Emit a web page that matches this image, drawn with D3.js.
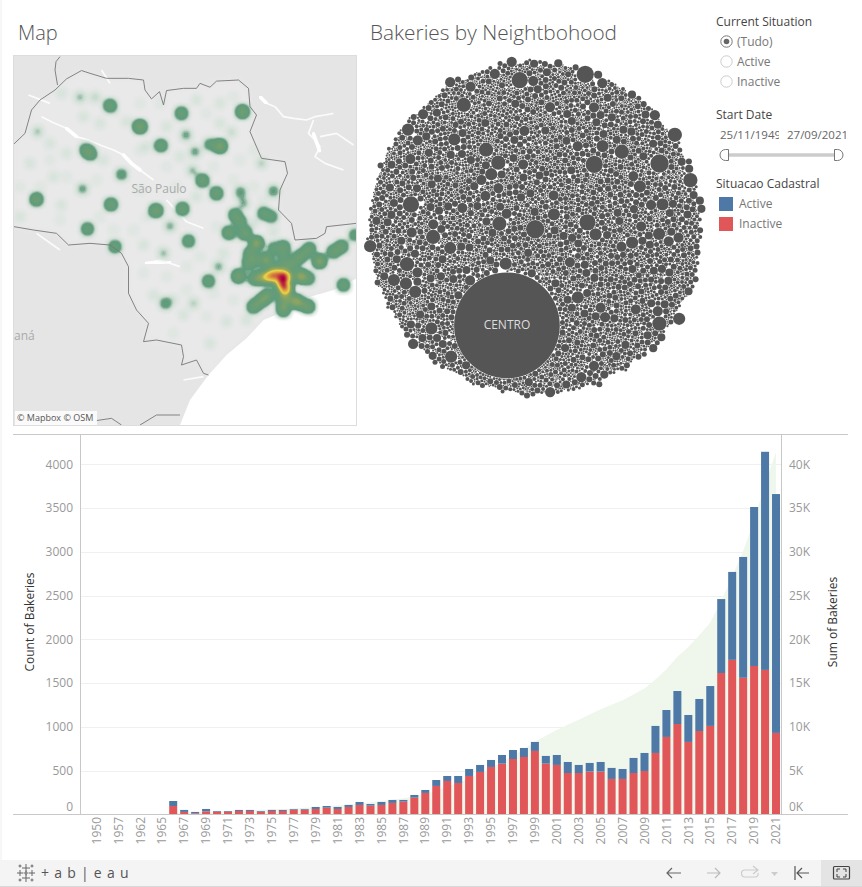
<!DOCTYPE html>
<html>
<head>
<meta charset="utf-8">
<title>Bakeries</title>
<style>
body { margin: 0; background: #fff; overflow: hidden; }
svg { display: block; font-family: "Open Sans", sans-serif; }
</style>
</head>
<body>
<script src="https://d3js.org/d3.v7.min.js"></script>
<script>
// bars
var years = ["1950","1955","1957","1960","1962","1964","1965","1966","1967","1968","1969","1970","1971","1972","1973","1974","1975","1976","1977","1978","1979","1980","1981","1982","1983","1984","1985","1986","1987","1988","1989","1990","1991","1992","1993","1994","1995","1996","1997","1998","1999","2000","2001","2002","2003","2004","2005","2006","2007","2008","2009","2010","2011","2012","2013","2014","2015","2016","2017","2018","2019","2020","2021"];
var inactive = [0,0,0,0,0,1,1,95,27,12,34,30,30,38,38,30,38,38,53,53,61,76,61,84,107,99,107,130,145,190,244,324,381,358,438,484,541,579,632,655,724,579,564,472,472,488,488,404,404,472,495,701,884,1032,827,952,1010,1615,1765,1560,1695,1650,930];
var active = [1,1,1,1,1,1,2,57,23,15,27,8,8,12,12,8,12,12,8,8,23,19,23,23,34,19,34,34,19,31,34,68,57,80,80,80,80,99,103,103,103,88,114,126,92,99,110,126,114,172,206,309,308,377,308,366,456,845,1005,1381,1817,2493,2730];
var sumBakeries = [1,2,3,4,5,7,10,162,212,239,300,338,376,426,476,514,564,614,675,736,820,915,999,1106,1247,1365,1506,1670,1834,2055,2333,2725,3163,3601,4119,4683,5304,5982,6717,7475,8302,8969,9647,10245,10809,11396,11994,12524,13042,13686,14387,15397,16589,17998,19133,20451,21917,24377,27147,30088,33600,37743,41403];
var countTicks = [0,500,1000,1500,2000,2500,3000,3500,4000];
var sumTicks = [0,5000,10000,15000,20000,25000,30000,35000,40000];

// neighbourhood sizes: value, how many bubbles of that value
var centroValue = 4900;
var bubbleValues = [148,130,117,90,66,46,29,16,11,7,4,2,1];
var bubbleCounts = [2,2,3,10,20,40,130,300,500,700,1000,1500,2500];

// map, lon / lat
var stateNorth = [[-52.01,-21.08],[-51.79,-20.89],[-51.66,-20.47],[-51.49,-20.29],[-51.19,-20.11],[-50.96,-19.91],[-50.66,-19.76],[-50.49,-19.81],[-50.16,-19.90],[-49.72,-19.90],[-49.42,-19.93],[-49.39,-20.11],[-49.26,-20.27],[-49.10,-20.14],[-49.02,-20.38],[-48.96,-20.12],[-48.62,-20.08],[-48.36,-20.08],[-48.29,-19.99],[-48.09,-20.06],[-47.96,-19.95],[-47.52,-19.93],[-47.32,-20.08],[-47.29,-20.41],[-47.16,-20.56],[-47.29,-20.86],[-47.06,-21.34],[-46.59,-21.40],[-46.54,-21.61],[-46.69,-21.91],[-46.72,-22.27],[-46.46,-22.51],[-46.39,-22.81],[-45.96,-22.78],[-45.79,-22.69],[-45.76,-22.57],[-45.16,-22.51]];
var stateSouth = [[-52.01,-22.57],[-51.62,-22.63],[-51.16,-22.69],[-50.92,-22.90],[-50.49,-22.87],[-50.09,-22.90],[-49.86,-23.05],[-49.72,-23.29],[-49.72,-23.77],[-49.56,-24.07],[-49.32,-24.31],[-49.42,-24.64],[-49.16,-24.61],[-48.66,-24.70],[-48.62,-24.91],[-48.66,-25.06],[-48.36,-24.97],[-48.22,-25.21],[-48.12,-25.24]];
var otherBorders = [
  [[-51.09,-19.51],[-51.17,-19.60],[-51.19,-19.75],[-51.14,-20.02]],
  [[-50.36,-26.06],[-50.06,-26.02],[-49.86,-26.14]],
  [[-49.49,-26.14],[-49.16,-25.96],[-48.69,-25.96]]
];
var coast = [[-48.69,-26.14],[-48.49,-25.69],[-48.12,-25.24],[-47.76,-24.88],[-47.36,-24.58],[-47.02,-24.25],[-46.62,-24.10],[-46.09,-23.83],[-45.62,-23.71],[-45.15,-23.50],[-45.15,-26.14]];
var rivers = [
  [[-51.46,-20.59],[-51.22,-20.70],[-50.96,-20.80],[-50.76,-20.95],[-50.52,-21.01],[-50.29,-21.10],[-50.02,-21.19],[-49.82,-21.28],[-49.66,-21.43],[-49.49,-21.55],[-49.22,-21.73]],
  [[-48.96,-22.09],[-48.56,-22.48],[-48.22,-22.60]],
  [[-47.09,-20.23],[-46.96,-20.35],[-46.79,-20.41],[-46.62,-20.59],[-46.42,-20.62],[-46.16,-20.65],[-45.99,-20.59],[-45.79,-20.56],[-45.62,-20.53]],
  [[-46.02,-20.65],[-46.12,-20.89],[-45.99,-21.01],[-45.89,-21.13],[-45.99,-21.31],[-45.79,-21.43],[-45.42,-21.55]],
  [[-45.89,-20.95],[-45.56,-20.89],[-45.22,-21.10]],
  [[-49.36,-23.23],[-49.09,-23.17],[-48.69,-23.29]],
  [[-50.26,-19.75],[-50.09,-19.99]],
  [[-51.56,-22.69],[-51.09,-22.99]],
  [[-51.72,-20.20],[-51.29,-20.35]],
  [[-50.89,-24.07],[-50.89,-24.25]],
  [[-48.62,-25.33],[-48.22,-25.27]]
];
var reservoirs = [
  [[-49.82,-21.28],[-49.66,-21.43],[-49.49,-21.55]],
  [[-49.36,-23.23],[-48.90,-23.20]],
  [[-47.09,-20.23],[-46.96,-20.35]],
  [[-46.02,-20.90],[-45.90,-21.20]],
  [[-50.96,-20.80],[-50.76,-20.95]]
];
// lon, lat, bakeries
var heatPoints = [
  [-50.09,-20.39,20],[-49.49,-20.77,32],[-48.66,-20.53,20],[-47.44,-20.50,28],[-49.07,-21.11,20],[-47.89,-21.12,34],[-48.09,-21.09,12],
  [-50.57,-21.19,18],[-50.48,-21.26,18],[-49.86,-21.63,11],[-50.64,-21.89,7],[-51.56,-22.08,24],[-50.07,-22.17,22],[-49.17,-22.28,28],
  [-48.64,-22.25,22],[-48.24,-21.74,22],[-47.96,-21.97,22],[-47.48,-21.95,9],[-46.82,-21.93,9],[-47.02,-22.33,16],[-46.86,-22.39,14],
  [-47.59,-22.36,20],[-47.71,-22.68,24],[-50.54,-22.61,18],[-49.99,-22.93,18],[-48.52,-22.83,18],[-48.12,-23.55,18],[-48.98,-23.95,11],
  [-47.52,-23.46,30],[-45.42,-23.62,20],[-45.19,-22.72,14],
  [-48.89,-22.56,6],[-49.02,-23.05,5],[-47.92,-23.29,6],[-48.42,-23.95,4],[-50.69,-20.24,5],[-50.39,-20.24,3.5],[-51.54,-20.86,4.5],
  [-48.57,-20.92,7],[-48.39,-21.22,7],[-48.44,-21.56,5],[-47.06,-21.43,4],[-47.66,-20.87,3],[-47.42,-22.15,6],
  [-51.06,-20.17,2],[-51.22,-21.67,2],[-50.96,-21.25,2],[-50.22,-21.37,2],[-51.69,-21.43,2],[-51.06,-22.18,2],[-49.22,-23.80,2],
  [-48.62,-24.16,2],[-47.76,-24.28,2],[-48.09,-24.67,2],[-49.42,-22.90,2],[-48.82,-23.89,2],[-47.89,-20.35,2],[-47.89,-20.71,2],
  [-49.76,-20.68,2],[-48.96,-20.77,2],[-48.36,-20.29,2],[-48.69,-21.31,2],[-48.36,-22.03,2],[-47.82,-23.05,2],[-47.36,-24.25,2],
  [-51.89,-22.39,2],[-49.36,-21.13,2],[-51.29,-21.07,2],[-50.62,-20.59,2],[-50.29,-20.71,2],[-47.22,-22.51,2],[-46.82,-22.66,2],
  [-51.29,-21.37,1.2],[-51.49,-21.85,1.2],[-51.89,-21.85,1.2],[-50.96,-21.67,1.2],[-50.36,-21.73,1.2],[-50.29,-22.39,1.2],[-51.09,-22.45,1.2],
  [-49.49,-21.91,1.2],[-49.62,-22.63,1.2],[-50.02,-22.63,1.2],[-49.36,-22.39,1.2],[-49.42,-23.41,1.2],[-48.96,-23.47,1.2],[-48.56,-23.29,1.2],
  [-48.29,-23.11,1.2],[-48.76,-21.85,1.2],[-47.96,-22.57,1.2],[-48.02,-21.49,1.2],[-47.49,-21.37,1.2],[-47.62,-21.73,1.2],[-47.22,-21.85,1.2],
  [-47.02,-22.09,1.2],[-47.22,-21.19,1.2],[-48.96,-21.49,1.2],[-49.49,-21.19,1.2],[-50.02,-20.47,1.2],[-49.49,-20.35,1.2],[-48.16,-20.53,1.2],
  [-47.62,-20.23,1.2],[-49.09,-20.35,1.2],[-48.56,-23.71,1.2],[-48.16,-24.19,1.2],[-48.82,-24.49,1.2],[-47.62,-23.89,1.2],[-48.02,-23.77,1.2],
  [-46.86,-23.47,70],[-46.69,-23.44,70],[-46.56,-23.47,70],[-46.66,-23.59,70],[-46.57,-23.68,70],[-47.00,-23.47,35],[-46.28,-23.46,40],[-46.62,-23.80,28],
  [-46.92,-23.80,20],[-47.00,-23.86,14],[-47.09,-23.92,20],[-47.22,-24.01,22],[-46.62,-23.95,18],[-46.62,-24.07,24],[-46.36,-23.92,34],[-46.48,-23.88,14],[-46.24,-23.97,14],[-46.12,-24.01,22],
  [-46.12,-23.50,18],[-47.20,-23.50,22],[-47.08,-23.50,14],[-46.46,-23.26,18],[-46.29,-23.11,18],[-46.38,-23.18,10],[-46.20,-23.05,10],[-46.10,-22.97,20],[-46.62,-23.26,18],[-46.62,-23.10,12],[-46.62,-22.94,22],
  [-46.96,-23.17,32],[-47.32,-23.23,20],[-47.29,-23.05,20],[-47.16,-22.87,38],[-47.39,-22.69,26],[-47.49,-22.48,18],[-46.82,-22.96,14],
  [-47.16,-23.17,18],[-46.82,-23.35,24],[-45.90,-23.19,36],[-45.62,-23.02,22],[-45.46,-22.93,22]
];

var blue = "#4e79a7", red = "#e15759", tickGrey = "#999";

var svg = d3.select("body").append("svg").attr("width", 862).attr("height", 887);

function title(txt, x, size) {
  svg.append("text").attr("x", x).attr("y", 40).attr("font-size", size).attr("font-weight", 300)
    .attr("fill", "#555").text(txt);
}
title("Map", 18, 20);
title("Bakeries by Neightbohood", 370, 20.8);

// ---------- map
var mapX = d3.scaleLinear().domain([-52.03, -45.15]).range([13, 357]);
var mapY = d3.scaleLinear().domain([-19.48, -26.14]).range([55, 425]);
var geoLine = d3.line().x(function(d) { return mapX(d[0]); }).y(function(d) { return mapY(d[1]); });

var defs = svg.append("defs");
defs.append("clipPath").attr("id", "mapClip").append("rect")
  .attr("x", 13).attr("y", 55).attr("width", 344).attr("height", 371);
defs.append("filter").attr("id", "soft").append("feGaussianBlur").attr("stdDeviation", 0.6);
defs.append("filter").attr("id", "softer").append("feGaussianBlur").attr("stdDeviation", 3);

var map = svg.append("g").attr("clip-path", "url(#mapClip)");
map.append("rect").attr("x", 13).attr("y", 55).attr("width", 344).attr("height", 371).attr("fill", "#e5e5e5");
map.append("path").attr("d", geoLine(stateNorth.concat(coast.slice(2, 10).reverse(), stateSouth.slice().reverse())) + "Z")
  .attr("fill", "#eef1ef").attr("fill-opacity", 0.35).attr("filter", "url(#softer)");
map.selectAll("path.river").data(rivers).enter().append("path").attr("class", "river")
  .attr("d", geoLine).attr("fill", "none").attr("stroke", "#fff").attr("stroke-width", 1.7).attr("stroke-opacity", 0.85)
  .attr("stroke-linejoin", "round").attr("filter", "url(#soft)");
map.selectAll("path.reservoir").data(reservoirs).enter().append("path").attr("class", "reservoir")
  .attr("d", geoLine).attr("fill", "none").attr("stroke", "#fff").attr("stroke-width", 3.6)
  .attr("stroke-linecap", "round").attr("filter", "url(#soft)");
map.append("path").attr("d", geoLine(coast) + "Z").attr("fill", "#fff").attr("filter", "url(#soft)");

var density = d3.contourDensity()
  .x(function(d) { return mapX(d[0]); })
  .y(function(d) { return mapY(d[1]); })
  .weight(function(d) { return d[2]; })
  .size([370, 440])
  .cellSize(1)
  .bandwidth(4)
  .thresholds(d3.range(0.002, 0.05, 0.003).concat(d3.range(0.05, 0.3, 0.02), d3.range(0.3, 2, 0.04)))(heatPoints);
var heatColor = d3.scaleLinear()
  .domain([0, 0.012, 0.03, 0.046, 0.06, 0.24, 0.42, 0.55, 0.75, 0.9])
  .range(["rgba(215,230,220,0)", "rgba(205,224,212,0.45)", "rgba(180,208,190,0.75)", "rgba(110,165,135,0.92)", "#5f9c7d", "#6f9e72", "#a3a956", "#ecd84a", "#e0a040", "#c9593f"]);
var contourPath = d3.geoPath();
// faint levels are drawn as separate bands so their alpha does not pile up
density.forEach(function(c, i) {
  var next = density[i + 1];
  var p = map.append("path").attr("fill", heatColor(c.value));
  if (c.value < 0.05 && next) p.attr("d", contourPath(c) + contourPath(next)).attr("fill-rule", "evenodd");
  else p.attr("d", contourPath(c));
});
map.selectAll("path.border").data([stateNorth, stateSouth].concat(otherBorders)).enter().append("path").attr("class", "border")
  .attr("d", geoLine).attr("fill", "none").attr("stroke", "#777").attr("stroke-width", 0.9);
map.append("text").attr("x", 159).attr("y", 193).attr("text-anchor", "middle").attr("font-size", 12).attr("fill", "#aaa").text("São Paulo");
map.append("text").attr("x", 14).attr("y", 340).attr("font-size", 12).attr("fill", "#aaa").text("aná");
map.append("rect").attr("x", 15).attr("y", 411).attr("width", 82).attr("height", 14).attr("fill", "#fff").attr("fill-opacity", 0.8);
map.append("text").attr("x", 17).attr("y", 421).attr("font-size", 9).attr("fill", "#555").text("© Mapbox  © OSM");
svg.append("rect").attr("x", 13.5).attr("y", 55.5).attr("width", 343).attr("height", 370).attr("fill", "none").attr("stroke", "#ddd");

// ---------- bubbles
var bubbleLeaves = [];
bubbleValues.forEach(function(v, i) {
  d3.range(bubbleCounts[i]).forEach(function() { bubbleLeaves.push({ value: v }); });
});
// spread sizes evenly through the spiral (fixed golden ratio order)
bubbleLeaves.forEach(function(d, i) { d.key = (i * 0.6180339887) % 1; });
bubbleLeaves.sort(function(a, b) { return a.key - b.key; });
bubbleLeaves.splice(600, 0, { value: centroValue, name: "CENTRO" });

var root = d3.hierarchy({ children: bubbleLeaves }).sum(function(d) { return d.value; });
var packSize = 350;
d3.pack().size([packSize, packSize]).padding(0.22)(root);

var centro = root.children.filter(function(d) { return d.data.name; })[0];
var wantAngle = Math.atan2(94, -29);
var gotAngle = Math.atan2(centro.y - packSize / 2, centro.x - packSize / 2);
var turn = wantAngle - gotAngle;
function turned(d) {
  var dx = d.x - packSize / 2, dy = d.y - packSize / 2;
  return [537 + dx * Math.cos(turn) - dy * Math.sin(turn), 228 + dx * Math.sin(turn) + dy * Math.cos(turn)];
}
svg.append("g").selectAll("circle").data(root.children).enter().append("circle")
  .attr("cx", function(d) { return turned(d)[0]; })
  .attr("cy", function(d) { return turned(d)[1]; })
  .attr("r", function(d) { return d.r; })
  .attr("fill", "#555");
svg.append("text").attr("x", turned(centro)[0]).attr("y", turned(centro)[1] + 4).attr("text-anchor", "middle")
  .attr("font-size", 12).attr("fill", "#ddd").text("CENTRO");

// ---------- filters and legend
function label(txt, x, y, col) {
  return svg.append("text").attr("x", x).attr("y", y).attr("font-size", 12).attr("fill", col).text(txt);
}
label("Current Situation", 716, 26, "#444");
["(Tudo)", "Active", "Inactive"].forEach(function(t, i) {
  var y = 41.5 + i * 20;
  svg.append("circle").attr("cx", 726.5).attr("cy", y).attr("r", 5.7).attr("fill", "#fff")
    .attr("stroke", i == 0 ? "#777" : "#ccc").attr("stroke-width", 1);
  if (i == 0) svg.append("circle").attr("cx", 726.5).attr("cy", y).attr("r", 2.8).attr("fill", "#666");
  label(t, 737, y + 4, "#777");
});
label("Start Date", 716, 119, "#444");
svg.append("clipPath").attr("id", "d1").append("rect").attr("x", 718).attr("y", 124).attr("width", 61).attr("height", 16);
svg.append("clipPath").attr("id", "d2").append("rect").attr("x", 786).attr("y", 124).attr("width", 60).attr("height", 16);
label("25/11/1949", 720, 139, "#666").attr("font-size", 11.5).attr("clip-path", "url(#d1)");
label("27/09/2021", 787, 139, "#666").attr("font-size", 11.5).attr("clip-path", "url(#d2)");
svg.append("line").attr("x1", 728).attr("x2", 835).attr("y1", 155).attr("y2", 155).attr("stroke", "#ccc").attr("stroke-width", 3.5);
svg.append("path").attr("d", "M728.5,149.5 h-3 a5.5,5.5 0 0 0 -5.5,5.5 a5.5,5.5 0 0 0 5.5,5.5 h3 Z").attr("fill", "#fff").attr("stroke", "#777");
svg.append("path").attr("d", "M834.5,149.5 h3 a5.5,5.5 0 0 1 5.5,5.5 a5.5,5.5 0 0 1 -5.5,5.5 h-3 Z").attr("fill", "#fff").attr("stroke", "#777");
label("Situacao Cadastral", 716, 188, "#444");
[["Active", blue], ["Inactive", red]].forEach(function(d, i) {
  var y = 197 + i * 20;
  svg.append("rect").attr("x", 719).attr("y", y).attr("width", 14).attr("height", 14).attr("fill", d[1]);
  label(d[0], 739, y + 11, "#777");
});

// ---------- bars
var x = d3.scaleBand().domain(years).range([91, 781.5]).paddingInner(0.27).paddingOuter(0.135);
var yCount = d3.scaleLinear().domain([0, 4000]).range([814.3, 464.3]);
var ySum = d3.scaleLinear().domain([0, 40000]).range([814.3, 464.3]);

svg.append("g").selectAll("line").data(countTicks.slice(1)).enter().append("line")
  .attr("x1", 81).attr("x2", 781).attr("y1", function(d) { return Math.round(yCount(d)) + 0.5; })
  .attr("y2", function(d) { return Math.round(yCount(d)) + 0.5; }).attr("stroke", "#f0f0f0");

var area = d3.area()
  .x(function(d) { return x(d.year) + x.bandwidth() / 2; })
  .y0(ySum(0))
  .y1(function(d) { return ySum(d.value); });
svg.append("path").attr("d", area(years.map(function(y, i) { return { year: y, value: sumBakeries[i] }; })))
  .attr("fill", "#eff6ec");

var rows = years.map(function(y, i) { return { year: y, inactive: inactive[i], active: active[i] }; });
var stack = d3.stack().keys(["inactive", "active"])(rows);
svg.append("g").selectAll("g").data(stack).enter().append("g")
  .attr("fill", function(d) { return d.key == "active" ? blue : red; })
  .selectAll("rect").data(function(d) { return d; }).enter().append("rect")
  .attr("x", function(d) { return x(d.data.year); })
  .attr("width", x.bandwidth())
  .attr("y", function(d) { return yCount(d[1]); })
  .attr("height", function(d) { return yCount(d[0]) - yCount(d[1]); });

function styleAxis(g) {
  g.select(".domain").remove();
  g.selectAll("line").remove();
  g.selectAll("text").attr("fill", tickGrey).attr("font-size", 12);
  // the bottom label sits above the baseline
  g.selectAll(".tick").filter(function(d) { return d === 0; }).select("text").attr("dy", "-0.33em");
}
svg.append("g").attr("transform", "translate(80,0)")
  .call(d3.axisLeft(yCount).tickValues(countTicks).tickSize(0).tickPadding(7).tickFormat(d3.format("d")))
  .attr("font-family", null).call(styleAxis);
svg.append("g").attr("transform", "translate(781,0)")
  .call(d3.axisRight(ySum).tickValues(sumTicks).tickSize(0).tickPadding(8).tickFormat(function(d) { return d / 1000 + "K"; }))
  .attr("font-family", null).call(styleAxis);
var xAxisG = svg.append("g").attr("transform", "translate(0,814)")
  .call(d3.axisBottom(x).tickValues(years.filter(function(y, i) { return i % 2 == 0; })).tickSize(0))
  .attr("font-family", null);
xAxisG.select(".domain").remove();
xAxisG.selectAll("text").attr("fill", tickGrey).attr("font-size", 12)
  .attr("text-anchor", "end").attr("transform", "rotate(-90)").attr("x", -3).attr("y", 0).attr("dy", "0.35em");

[[80.5, 435, 80.5, 814], [781.5, 435, 781.5, 814], [13, 814.5, 848, 814.5], [13, 434.5, 848, 434.5]].forEach(function(l) {
  svg.append("line").attr("x1", l[0]).attr("y1", l[1]).attr("x2", l[2]).attr("y2", l[3]).attr("stroke", "#c8c8c8");
});
svg.append("text").attr("transform", "translate(34,622) rotate(-90)").attr("text-anchor", "middle")
  .attr("font-size", 12).attr("fill", "#333").text("Count of Bakeries");
svg.append("text").attr("transform", "translate(837,622) rotate(-90)").attr("text-anchor", "middle")
  .attr("font-size", 12).attr("fill", "#333").text("Sum of Bakeries");

// ---------- footer
svg.append("line").attr("x1", 1).attr("x2", 1).attr("y1", 0).attr("y2", 860).attr("stroke", "#eee");
svg.append("rect").attr("x", 0).attr("y", 860).attr("width", 862).attr("height", 26).attr("fill", "#f4f4f4");
svg.append("line").attr("x1", 0).attr("x2", 862).attr("y1", 886.5).attr("y2", 886.5).attr("stroke", "#d8d8d8");
svg.append("rect").attr("x", 821).attr("y", 860).attr("width", 41).attr("height", 26).attr("fill", "#e4e4e4");
var logo = svg.append("g").attr("stroke", "#666").attr("stroke-width", 1).attr("fill", "none");
[[26,868,4],[26,878,4],[20,873,3],[32,873,3],[26,873,2.5],[20,866,1.5],[32,866,1.5],[20,880,1.5],[32,880,1.5]].forEach(function(p) {
  logo.append("path").attr("d", "M" + (p[0] - p[2]) + "," + p[1] + "H" + (p[0] + p[2]) + "M" + p[0] + "," + (p[1] - p[2]) + "V" + (p[1] + p[2]));
});
svg.append("text").attr("x", 41).attr("y", 878).attr("font-size", 14).attr("letter-spacing", 5.2).attr("fill", "#555").text("+ab|eau");
var nav = svg.append("g").attr("fill", "none").attr("stroke-width", 1.2);
nav.append("path").attr("d", "M681,873H667M672,868l-5,5l5,5").attr("stroke", "#666");
nav.append("path").attr("d", "M707,873H720M715,868l5,5l-5,5").attr("stroke", "#bbb");
nav.append("path").attr("d", "M758,870H745a3,3 0 0 0 0,7H755a3,3 0 0 0 3,-4M753,866l5,4l-5,4").attr("stroke", "#ccc");
nav.append("path").attr("d", "M771,872h7l-3.5,4Z").attr("fill", "#ccc").attr("stroke", "none");
nav.append("path").attr("d", "M795,866V880M809,873H797M802,868l-5,5l5,5").attr("stroke", "#555");
nav.append("rect").attr("x", 833.5).attr("y", 866.5).attr("width", 16).attr("height", 12.5).attr("rx", 1).attr("stroke", "#444");
nav.append("path").attr("d", "M837,872v-3h3M846,872v-3h-3M837,874v3h3M846,874v3h-3").attr("stroke", "#444").attr("stroke-width", 1);
</script>
</body>
</html>
